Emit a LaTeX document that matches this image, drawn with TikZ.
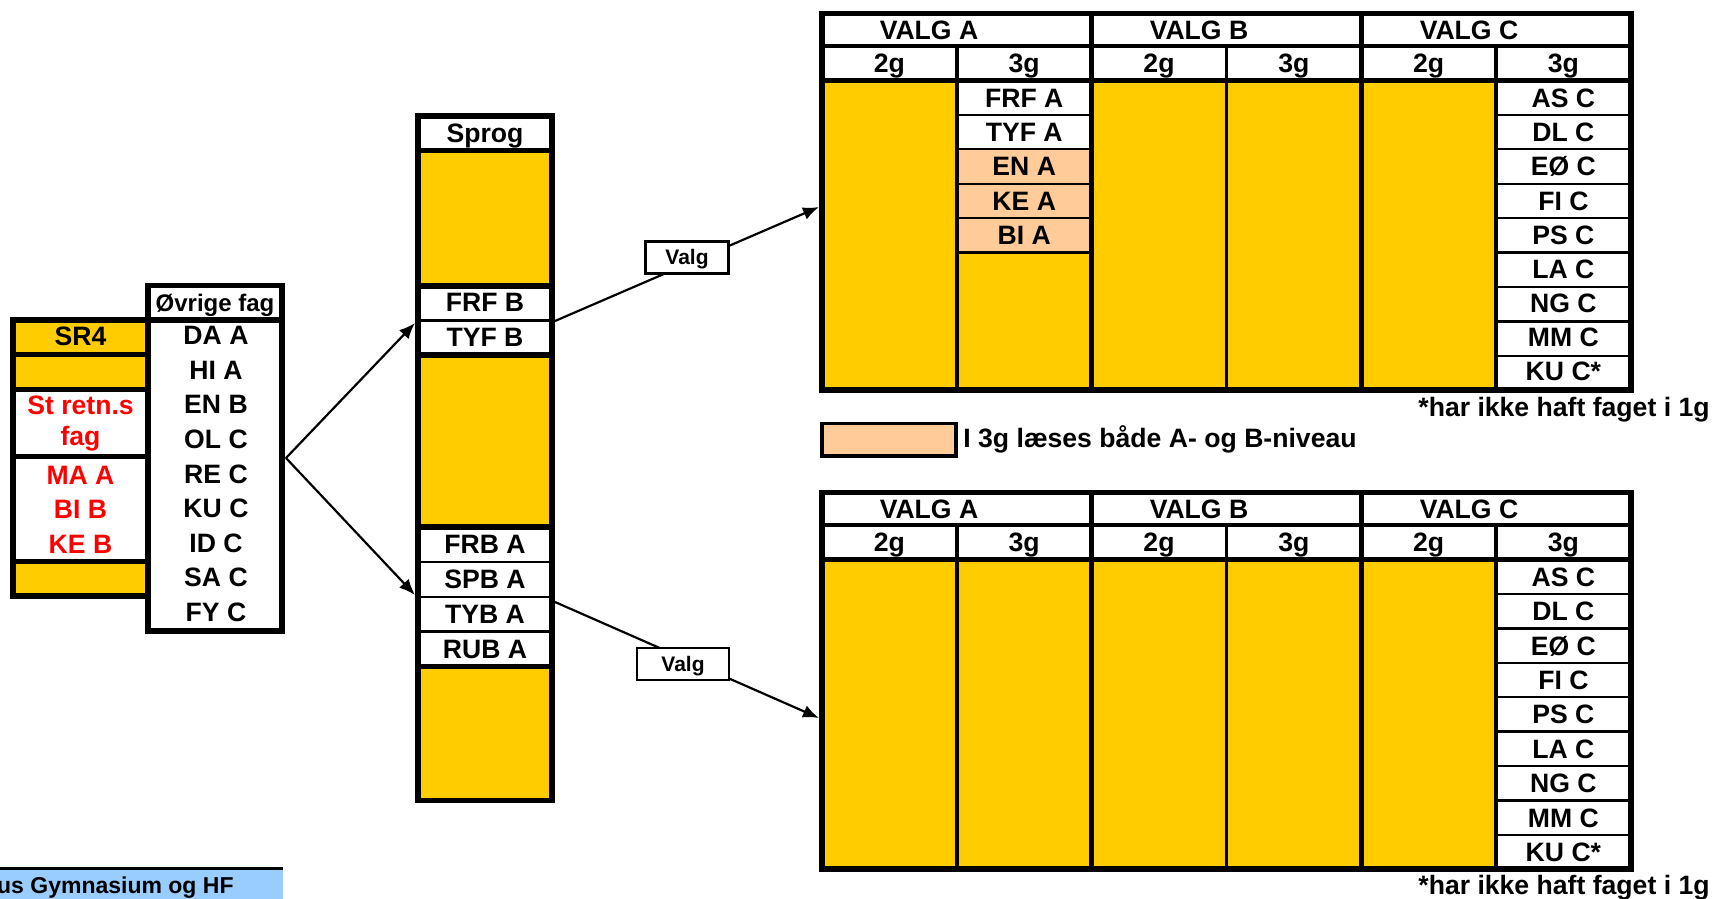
\documentclass[tikz,border=0pt]{standalone}
\usepackage{fontspec}
\setmainfont{Liberation Sans}
\usetikzlibrary{arrows.meta}

\definecolor{gul}{HTML}{FFCC00}
\definecolor{fersken}{HTML}{FFCC99}
\definecolor{lyseblaa}{HTML}{99CCFF}
\definecolor{roed}{HTML}{FF0000}

\tikzset{
	tyk/.style={line width=2.7pt},
	mellem/.style={line width=1.7pt},
	tynd/.style={line width=1.2pt},
	skrift/.style={font=\bfseries\fontsize{13.3}{15.5}\selectfont, inner sep=0pt},
	fag/.style={skrift, text height=9.5pt, text depth=0pt},
	rodfag/.style={fag, text=roed},
	valgboks/.style={draw, fill=white, line width=1.2pt, font=\bfseries\fontsize{10.5}{12}\selectfont,
		inner sep=0pt, text height=7.5pt, text depth=0pt, minimum height=16pt},
	pil/.style={line width=1.1pt, -{Latex[length=8pt,width=6.5pt]}}
}

\begin{document}
\begin{tikzpicture}[x=0.5pt, y=-0.5pt]
	\useasboundingbox (0,0) rectangle (1713,899);
	\clip (0,0) rectangle (1713,899);

	\fill[gul] (13,320) rectangle (148,389.7);
	\fill[gul] (13,561.7) rectangle (148,596);
	\draw[tyk] (13,320) rectangle (148,596);
	\draw[tyk] (13,354.5) -- (148,354.5) (13,389.7) -- (148,389.7)
		(13,456.3) -- (148,456.3) (13,561.7) -- (148,561.7);
	\node[fag] (sr4) at (80.5,336) {SR4};
	\node[skrift, text=roed, align=center] (stretn) at (80.5,424) {St retn.s\\fag};
	\node[rodfag] (maA) at (80.5,474.5) {MA A};
	\node[rodfag] (biB) at (80.5,509) {BI B};
	\node[rodfag] (keB) at (80.5,543.5) {KE B};

	\draw[tyk] (148,285.5) rectangle (282,631);
	\draw[tyk] (148,320) -- (282,320);
	\node[fag, font=\bfseries\fontsize{12}{14}\selectfont, text height=8.6pt] (ovrige) at (215,302.5) {Øvrige fag};
	\node[fag] (daA) at (216,335.3) {DA A};
	\node[fag] (hiA) at (216,369.8) {HI A};
	\node[fag] (enB) at (216,404.4) {EN B};
	\node[fag] (olC) at (216,438.9) {OL C};
	\node[fag] (reC) at (216,473.5) {RE C};
	\node[fag] (kuC) at (216,508) {KU C};
	\node[fag] (idC) at (216,542.6) {ID C};
	\node[fag] (saC) at (216,577.1) {SA C};
	\node[fag] (fyC) at (216,611.7) {FY C};

	\fill[gul] (418,150.5) rectangle (552,286);
	\fill[gul] (418,355) rectangle (552,527);
	\fill[gul] (418,666.5) rectangle (552,800.5);
	\draw[tyk] (418,116) rectangle (552,800.5);
	\draw[tyk] (418,150.5) -- (552,150.5) (418,286) -- (552,286) (418,355) -- (552,355)
		(418,527) -- (552,527) (418,666.5) -- (552,666.5);
	\draw[tynd] (418,320.5) -- (552,320.5) (418,562) -- (552,562)
		(418,597) -- (552,597) (418,631.5) -- (552,631.5);
	\node[fag] (sprog) at (485,132.5) {Sprog};
	\node[fag] (frfB) at (485,302) {FRF B};
	\node[fag] (tyfB) at (485,337) {TYF B};
	\node[fag] (frbA) at (485,544) {FRB A};
	\node[fag] (spbA) at (485,579) {SPB A};
	\node[fag] (tybA) at (485,613.5) {TYB A};
	\node[fag] (rubA) at (485,648.5) {RUB A};

	\fill[gul] (822,80.5) rectangle (956.8,390);
	\fill[gul] (956.8,252.5) rectangle (1091.6,390);
	\fill[fersken] (956.8,149.3) rectangle (1091.6,252.5);
	\fill[gul] (1091.6,80.5) rectangle (1496,390);
	\draw[tyk] (822,13.5) rectangle (1631,390);
	\draw[mellem] (822,46) -- (1631,46);
	\draw[tyk] (822,80.5) -- (1631,80.5);
	\draw[tyk] (1091.6,13.5) -- (1091.6,390) (1361.2,13.5) -- (1361.2,390);
	\draw[mellem] (956.8,46) -- (956.8,390) (1226.4,46) -- (1226.4,390) (1496,46) -- (1496,390);
	\draw[tynd] (956.8,114.9) -- (1091.6,114.9) (956.8,149.3) -- (1091.6,149.3)
		(956.8,183.7) -- (1091.6,183.7) (956.8,218.1) -- (1091.6,218.1);
	\draw[mellem] (956.8,252.5) -- (1091.6,252.5);
	\draw[tynd] (1496,114.9) -- (1631,114.9) (1496,149.3) -- (1631,149.3)
		(1496,183.7) -- (1631,183.7) (1496,218.1) -- (1631,218.1)
		(1496,252.5) -- (1631,252.5) (1496,286.9) -- (1631,286.9)
		(1496,321.3) -- (1631,321.3) (1496,355.7) -- (1631,355.7);
	\node[fag] (valgA1) at (929,29.75) {VALG A};
	\node[fag] (valgB1) at (1199,29.75) {VALG B};
	\node[fag] (valgC1) at (1469,29.75) {VALG C};
	\node[fag] (a2g1) at (889.4,63.25) {2g};
	\node[fag] (a3g1) at (1024.2,63.25) {3g};
	\node[fag] (b2g1) at (1159,63.25) {2g};
	\node[fag] (b3g1) at (1293.8,63.25) {3g};
	\node[fag] (c2g1) at (1428.6,63.25) {2g};
	\node[fag] (c3g1) at (1563.4,63.25) {3g};
	\node[fag] (frfA) at (1024.2,97.7) {FRF A};
	\node[fag] (tyfA) at (1024.2,132.1) {TYF A};
	\node[fag] (enA) at (1024.2,166.5) {EN A};
	\node[fag] (keA) at (1024.2,200.9) {KE A};
	\node[fag] (biA) at (1024.2,235.3) {BI A};
	\node[fag] (asC1) at (1563.4,97.7) {AS C};
	\node[fag] (dlC1) at (1563.4,132.1) {DL C};
	\node[fag] (eoC1) at (1563.4,166.5) {EØ C};
	\node[fag] (fiC1) at (1563.4,200.9) {FI C};
	\node[fag] (psC1) at (1563.4,235.3) {PS C};
	\node[fag] (laC1) at (1563.4,268.5) {LA C};
	\node[fag] (ngC1) at (1563.4,302.5) {NG C};
	\node[fag] (mmC1) at (1563.4,336.5) {MM C};
	\node[fag] (kuC1) at (1563.4,370.5) {KU C*};
	\node[fag, anchor=east] (note1) at (1710,407) {*har ikke haft faget i 1g};

	\draw[mellem, fill=fersken] (822,423.5) rectangle (956,456);
	\node[fag, anchor=west] (forklaring) at (963,437.5) {I 3g læses både A- og B-niveau};

	\fill[gul] (822,559.5) rectangle (1496,869);
	\draw[tyk] (822,492.5) rectangle (1631,869);
	\draw[mellem] (822,525) -- (1631,525);
	\draw[tyk] (822,559.5) -- (1631,559.5);
	\draw[tyk] (1091.6,492.5) -- (1091.6,869) (1361.2,492.5) -- (1361.2,869);
	\draw[mellem] (956.8,525) -- (956.8,869) (1226.4,525) -- (1226.4,869) (1496,525) -- (1496,869);
	\draw[tynd] (1496,593.9) -- (1631,593.9) (1496,628.3) -- (1631,628.3)
		(1496,662.7) -- (1631,662.7) (1496,697.1) -- (1631,697.1)
		(1496,731.5) -- (1631,731.5) (1496,765.9) -- (1631,765.9)
		(1496,800.3) -- (1631,800.3) (1496,834.7) -- (1631,834.7);
	\node[fag] (valgA2) at (929,508.75) {VALG A};
	\node[fag] (valgB2) at (1199,508.75) {VALG B};
	\node[fag] (valgC2) at (1469,508.75) {VALG C};
	\node[fag] (a2g2) at (889.4,542.25) {2g};
	\node[fag] (a3g2) at (1024.2,542.25) {3g};
	\node[fag] (b2g2) at (1159,542.25) {2g};
	\node[fag] (b3g2) at (1293.8,542.25) {3g};
	\node[fag] (c2g2) at (1428.6,542.25) {2g};
	\node[fag] (c3g2) at (1563.4,542.25) {3g};
	\node[fag] (asC2) at (1563.4,576.7) {AS C};
	\node[fag] (dlC2) at (1563.4,611.1) {DL C};
	\node[fag] (eoC2) at (1563.4,645.5) {EØ C};
	\node[fag] (fiC2) at (1563.4,679.9) {FI C};
	\node[fag] (psC2) at (1563.4,714.3) {PS C};
	\node[fag] (laC2) at (1563.4,748.7) {LA C};
	\node[fag] (ngC2) at (1563.4,783.1) {NG C};
	\node[fag] (mmC2) at (1563.4,817.5) {MM C};
	\node[fag] (kuC2) at (1563.4,851.9) {KU C*};
	\node[fag, anchor=east] (note2) at (1710,885) {*har ikke haft faget i 1g};

	\fill[lyseblaa] (0,869.5) rectangle (283,899);
	\draw[line width=1.3pt] (0,868.5) -- (283,868.5);
	\node[fag, font=\bfseries\fontsize{11.5}{13}\selectfont, text height=8.2pt, anchor=east] (skole) at (234,885) {us Gymnasium og HF};

	\coordinate (ovrigeUd) at (286,458);
	\coordinate (sprogInd1) at (415,323);
	\coordinate (sprogInd2) at (415,595);
	\coordinate (sprogUd1) at (555,321);
	\coordinate (sprogUd2) at (555,602);
	\coordinate (tabelInd1) at (819,207);
	\coordinate (tabelInd2) at (819,718);

	\draw[pil] (ovrigeUd) -- (sprogInd1);
	\draw[pil] (ovrigeUd) -- (sprogInd2);
	\draw[pil] (sprogUd1) -- node[valgboks, pos=0.5, yshift=3.3pt, minimum width=41.5pt] (valg1) {Valg} (tabelInd1);
	\draw[pil] (sprogUd2) -- node[valgboks, pos=0.485, yshift=-2.9pt, minimum width=46pt] (valg2) {Valg} (tabelInd2);
\end{tikzpicture}
\end{document}
